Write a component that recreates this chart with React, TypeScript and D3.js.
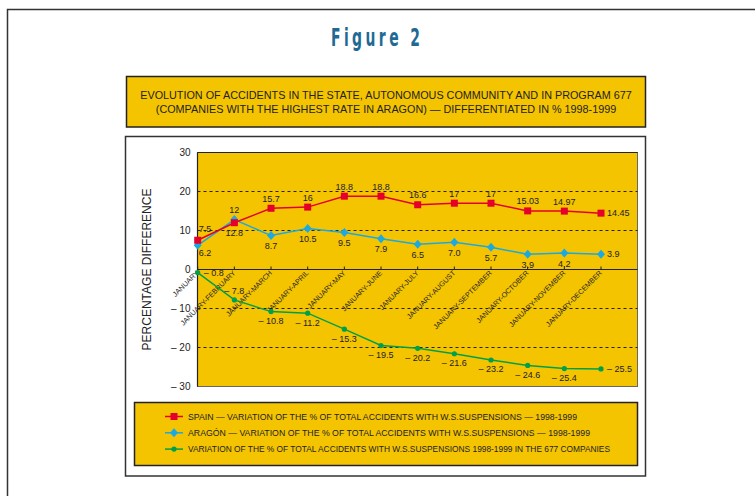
import React from "react";
import * as d3 from "d3";

// Categories (cumulative periods of 1999 compared with 1998)
const periods = [
  "JANUARY",
  "JANUARY-FEBRUARY",
  "JANUARY-MARCH",
  "JANUARY-APRIL",
  "JANUARY-MAY",
  "JANUARY-JUNE",
  "JANUARY-JULY",
  "JANUARY-AUGUST",
  "JANUARY-SEPTEMBER",
  "JANUARY-OCTOBER",
  "JANUARY-NOVEMBER",
  "JANUARY-DECEMBER",
];

// Percentage differences 1998-1999
const spain = [7.5, 12, 15.7, 16, 18.8, 18.8, 16.6, 17, 17, 15.03, 14.97, 14.45];
const aragon = [6.2, 12.8, 8.7, 10.5, 9.5, 7.9, 6.5, 7.0, 5.7, 3.9, 4.2, 3.9];
const companies677 = [-0.8, -7.8, -10.8, -11.2, -15.3, -19.5, -20.2, -21.6, -23.2, -24.6, -25.4, -25.5];

const spainLabels = ["7.5", "12", "15.7", "16", "18.8", "18.8", "16.6", "17", "17", "15.03", "14.97", "14.45"];
const aragonLabels = ["6.2", "12.8", "8.7", "10.5", "9.5", "7.9", "6.5", "7.0", "5.7", "3.9", "4.2", "3.9"];

const yTicks = [30, 20, 10, 0, -10, -20, -30];
const gridValues = [20, 10, -10, -20];

const legendItems = [
  "SPAIN — VARIATION OF THE % OF TOTAL ACCIDENTS WITH W.S.SUSPENSIONS — 1998-1999",
  "ARAGÓN — VARIATION OF THE % OF TOTAL ACCIDENTS WITH W.S.SUSPENSIONS — 1998-1999",
  "VARIATION OF THE % OF TOTAL ACCIDENTS WITH W.S.SUSPENSIONS  1998-1999 IN THE 677 COMPANIES",
];
const legendTextWidths = [389, 402, 422];

const titleLines = [
  "EVOLUTION OF ACCIDENTS IN THE STATE, AUTONOMOUS COMMUNITY AND IN PROGRAM 677",
  "(COMPANIES WITH THE HIGHEST RATE IN ARAGON) — DIFFERENTIATED IN % 1998-1999",
];

const YELLOW = "#F5C400";
const RED = "#E4002B";
const BLUE = "#1AA9E1";
const GREEN = "#00A04B";
const INK = "#222";
const FONT = "'Liberation Sans', Arial, sans-serif";

const fmtNeg = (v: number) => (v < 0 ? `– ${Math.abs(v)}` : `${v}`);

export default function App() {
  const W = 755;
  const H = 496;
  const plot = { left: 197.5, right: 637.5, top: 152.5, bottom: 386.5 };

  const x = d3.scalePoint<string>().domain(periods).range([197.7, 601]);
  const y = d3.scaleLinear().domain([-30, 30]).range([plot.bottom, plot.top]);

  const line = d3
    .line<number>()
    .x((_, i) => x(periods[i]) as number)
    .y((d) => y(d));

  const last = periods.length - 1;

  const square = (cx: number, cy: number, key: string) => (
    <rect key={key} x={cx - 3.5} y={cy - 3.5} width={7} height={7} fill={RED} />
  );
  const diamond = (cx: number, cy: number, key: string) => (
    <path
      key={key}
      d={`M${cx},${cy - 4.5}L${cx + 4},${cy}L${cx},${cy + 4.5}L${cx - 4},${cy}Z`}
      fill={BLUE}
    />
  );
  const dot = (cx: number, cy: number, key: string) => (
    <circle key={key} cx={cx} cy={cy} r={2.6} fill={GREEN} />
  );

  const labelStyle = { fontFamily: FONT, fontSize: 9, fill: INK } as const;

  // narrow, widely spaced heading face
  const headScale = 0.62;

  return (
    <svg
      width={W}
      height={H}
      viewBox={`0 0 ${W} ${H}`}
      style={{ position: "absolute", left: 0, top: 0, background: "#fff" }}
    >
      {/* page frame */}
      <path d={`M7.5,${H}V9.5H${W}`} fill="none" stroke="#333" strokeWidth={1.5} />

      {/* figure heading */}
      <g transform={`scale(${headScale},1)`}>
        <text
          x={331 / headScale}
          y={46.5}
          textLength={89 / headScale}
          lengthAdjust="spacing"
          style={{
            fontFamily: "'DejaVu Sans Condensed', 'DejaVu Sans', sans-serif",
            fontSize: 25,
            fontWeight: 600,
            fill: "#1F6A94",
          }}
        >
          Figure 2
        </text>
      </g>

      {/* chart title box */}
      <rect x={126.5} y={76.5} width={519} height={50.5} fill={YELLOW} stroke={INK} strokeWidth={1.5} />
      {titleLines.map((t, i) => (
        <text
          key={t}
          x={386}
          y={99 + i * 14}
          textAnchor="middle"
          style={{ fontFamily: FONT, fontSize: 10.8, fill: INK }}
        >
          {t}
        </text>
      ))}

      {/* chart box */}
      <rect x={125.5} y={136.5} width={520} height={339.5} fill="#fff" stroke="#333" strokeWidth={1.5} />

      {/* plot area */}
      <rect
        x={plot.left}
        y={plot.top}
        width={plot.right - plot.left}
        height={plot.bottom - plot.top}
        fill={YELLOW}
        stroke="#666"
        strokeWidth={1}
      />
      <line x1={plot.left} x2={plot.right} y1={plot.top} y2={plot.top} stroke={INK} strokeWidth={1} />

      {/* dashed gridlines */}
      {gridValues.map((v) => (
        <line
          key={v}
          x1={plot.left}
          x2={plot.right}
          y1={y(v)}
          y2={y(v)}
          stroke={INK}
          strokeWidth={1}
          strokeDasharray="3,3"
        />
      ))}

      {/* axes */}
      <line x1={plot.left} x2={plot.right} y1={y(0)} y2={y(0)} stroke={INK} strokeWidth={1.2} />
      <line x1={plot.left} x2={plot.left} y1={plot.top} y2={plot.bottom} stroke={INK} strokeWidth={1.2} />
      {periods.map((p) => (
        <line key={p} x1={x(p)} x2={x(p)} y1={y(0) - 3} y2={y(0)} stroke={INK} strokeWidth={1} />
      ))}

      {/* y tick labels */}
      {yTicks.map((v) => (
        <text
          key={v}
          x={190.5}
          y={y(v) + 3.5}
          textAnchor="end"
          style={{ fontFamily: FONT, fontSize: 10, fill: INK }}
        >
          {fmtNeg(v)}
        </text>
      ))}

      {/* y axis title */}
      <text
        transform={`translate(151,${(plot.top + plot.bottom) / 2}) rotate(-90)`}
        textAnchor="middle"
        style={{ fontFamily: FONT, fontSize: 12, fill: INK }}
      >
        PERCENTAGE DIFFERENCE
      </text>

      {/* x category labels */}
      {periods.map((p) => (
        <text
          key={p}
          transform={`translate(${(x(p) as number) + 1.5},${y(0) + 4}) rotate(-45)`}
          textAnchor="end"
          style={{ fontFamily: FONT, fontSize: 7.2, fill: INK }}
        >
          {p}
        </text>
      ))}

      {/* series lines */}
      <path d={line(companies677) ?? ""} fill="none" stroke={GREEN} strokeWidth={1.5} />
      <path d={line(aragon) ?? ""} fill="none" stroke={BLUE} strokeWidth={1.5} />
      <path d={line(spain) ?? ""} fill="none" stroke={RED} strokeWidth={1.5} />

      {/* markers */}
      {companies677.map((v, i) => dot(x(periods[i]) as number, y(v), `g${i}`))}
      {aragon.map((v, i) => diamond(x(periods[i]) as number, y(v), `a${i}`))}
      {spain.map((v, i) => square(x(periods[i]) as number, y(v), `s${i}`))}

      {/* value labels: Spain above */}
      {spain.map((v, i) => {
        const cx = x(periods[i]) as number;
        const top = Math.min(y(v), y(aragon[i]));
        if (i === 0)
          return (
            <text key={`sl${i}`} x={cx + 1} y={y(v) - 8} style={labelStyle}>
              {spainLabels[i]}
            </text>
          );
        if (i === last)
          return (
            <text key={`sl${i}`} x={cx + 6} y={y(v) + 3.2} style={labelStyle}>
              {spainLabels[i]}
            </text>
          );
        return (
          <text key={`sl${i}`} x={cx} y={top - 6.5} textAnchor="middle" style={labelStyle}>
            {spainLabels[i]}
          </text>
        );
      })}

      {/* value labels: Aragón below */}
      {aragon.map((v, i) => {
        const cx = x(periods[i]) as number;
        const bottom = Math.max(y(v), y(spain[i]));
        if (i === 0)
          return (
            <text key={`al${i}`} x={cx + 1} y={y(v) + 10.5} style={labelStyle}>
              {aragonLabels[i]}
            </text>
          );
        if (i === last)
          return (
            <text key={`al${i}`} x={cx + 6} y={y(v) + 3.2} style={labelStyle}>
              {aragonLabels[i]}
            </text>
          );
        return (
          <text key={`al${i}`} x={cx} y={bottom + 13.5} textAnchor="middle" style={labelStyle}>
            {aragonLabels[i]}
          </text>
        );
      })}

      {/* value labels: 677 companies below */}
      {companies677.map((v, i) => {
        const cx = x(periods[i]) as number;
        if (i === 0 || i === last)
          return (
            <text key={`gl${i}`} x={cx + 6} y={y(v) + 3.2} style={labelStyle}>
              {fmtNeg(v)}
            </text>
          );
        if (i === 1)
          return (
            <text key={`gl${i}`} x={cx} y={y(v) - 5.5} textAnchor="middle" style={labelStyle}>
              {fmtNeg(v)}
            </text>
          );
        return (
          <text key={`gl${i}`} x={cx} y={y(v) + 12.5} textAnchor="middle" style={labelStyle}>
            {fmtNeg(v)}
          </text>
        );
      })}

      {/* legend */}
      <rect x={134.5} y={402.5} width={503} height={63} fill={YELLOW} stroke={INK} strokeWidth={1.5} />
      {legendItems.map((t, i) => {
        const ly = 416.5 + i * 16.3;
        const color = [RED, BLUE, GREEN][i];
        const marker = [square, diamond, dot][i];
        return (
          <g key={t}>
            <line x1={165} x2={183} y1={ly} y2={ly} stroke={color} strokeWidth={1.5} />
            {marker(174, ly, `lm${i}`)}
            <text
              x={188}
              y={ly + 3.2}
              textLength={legendTextWidths[i]}
              lengthAdjust="spacingAndGlyphs"
              style={{ fontFamily: FONT, fontSize: 9, fill: INK }}
            >
              {t}
            </text>
          </g>
        );
      })}
    </svg>
  );
}
